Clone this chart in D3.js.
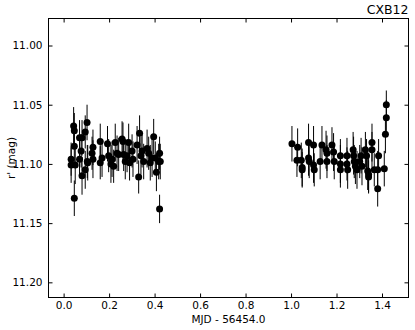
<!DOCTYPE html>
<html><head><meta charset="utf-8">
<script src="https://cdn.jsdelivr.net/npm/d3@7"></script>
<style>
body{margin:0;background:#fff;}
text{font-family:"DejaVu Sans",sans-serif;fill:#000;}
</style></head>
<body><svg id="c" width="415" height="330"></svg>
<script>
const title = "CXB12";
const xLabel = "MJD - 56454.0";
const yLabel = "r' (mag)";
const xTicks = [0.0,0.2,0.4,0.6,0.8,1.0,1.2,1.4];
const yTicks = [11.00,11.05,11.10,11.15,11.20];

const t = [0.033,0.033,0.044,0.047,0.047,0.047,0.051,0.070,0.077,0.070,0.081,0.095,0.103,0.095,0.106,0.125,0.129,0.129,0.161,0.161,0.169,0.193,0.198,0.208,0.213,0.220,0.227,0.235,0.242,0.257,0.261,0.264,0.271,0.279,0.286,0.290,0.301,0.305,0.323,0.330,0.334,0.340,0.345,0.352,0.367,0.374,0.381,0.389,0.396,0.403,0.408,0.418,0.422,0.422,0.425,0.081,0.104,
1.004,1.029,1.026,1.045,1.049,1.049,1.077,1.077,1.080,1.099,1.099,1.102,1.128,1.136,1.154,1.158,1.158,1.180,1.187,1.190,1.217,1.217,1.217,1.246,1.246,1.249,1.273,1.275,1.278,1.283,1.290,1.302,1.308,1.312,1.327,1.332,1.337,1.341,1.341,1.356,1.356,1.366,1.381,1.381,1.385,1.410,1.415,1.419,1.419];
const mag = [11.096,11.101,11.068,11.072,11.085,11.129,11.101,11.078,11.089,11.096,11.110,11.073,11.065,11.105,11.099,11.091,11.086,11.096,11.081,11.099,11.095,11.083,11.093,11.100,11.096,11.102,11.082,11.091,11.092,11.079,11.081,11.092,11.098,11.093,11.082,11.099,11.089,11.096,11.084,11.111,11.074,11.093,11.089,11.098,11.087,11.091,11.099,11.095,11.077,11.095,11.107,11.098,11.091,11.138,11.098,11.078,11.098,
11.083,11.086,11.097,11.097,11.103,11.105,11.082,11.095,11.098,11.084,11.101,11.105,11.098,11.084,11.088,11.091,11.098,11.084,11.090,11.098,11.093,11.100,11.105,11.093,11.100,11.105,11.088,11.093,11.098,11.102,11.105,11.098,11.093,11.102,11.088,11.093,11.106,11.109,11.111,11.082,11.088,11.105,11.105,11.121,11.093,11.104,11.075,11.061,11.050];
const err = [0.014,0.015,0.016,0.015,0.014,0.015,0.016,0.015,0.014,0.015,0.016,0.014,0.015,0.016,0.015,0.014,0.015,0.016,0.015,0.014,0.016,0.015,0.014,0.016,0.015,0.014,0.016,0.015,0.014,0.015,0.016,0.014,0.015,0.014,0.016,0.015,0.014,0.015,0.016,0.014,0.015,0.016,0.014,0.015,0.016,0.014,0.015,0.016,0.015,0.014,0.016,0.015,0.014,0.012,0.015,0.015,0.014,
0.015,0.016,0.014,0.015,0.016,0.015,0.016,0.015,0.014,0.016,0.015,0.014,0.015,0.016,0.016,0.015,0.014,0.015,0.016,0.015,0.014,0.016,0.015,0.015,0.014,0.016,0.015,0.016,0.014,0.015,0.016,0.014,0.015,0.016,0.015,0.014,0.016,0.015,0.014,0.016,0.015,0.014,0.016,0.015,0.014,0.015,0.016,0.015,0.012];

const svg = d3.select("#c");
const L=48.5, R=408.5, T=18.5, B=297.5;
const x = d3.scaleLinear().domain([-0.0665,1.5165]).range([L,R]);
const y = d3.scaleLinear().domain([10.9772,11.2128]).range([T,B]);

const data = t.map((d,i)=>({t:d,m:mag[i],e:err[i]}));

const g = svg.append("g");
g.selectAll("line.eb").data(data).enter().append("line")
  .attr("x1",d=>x(d.t)).attr("x2",d=>x(d.t))
  .attr("y1",d=>y(d.m-d.e)).attr("y2",d=>y(d.m+d.e))
  .attr("stroke","#000").attr("stroke-width",1);
g.selectAll("circle").data(data).enter().append("circle")
  .attr("cx",d=>x(d.t)).attr("cy",d=>y(d.m)).attr("r",3.5).attr("fill","#000");

const fmtY = d3.format(".2f"), fmtX = d3.format(".1f");
const axB = d3.axisBottom(x).tickValues(xTicks).tickSize(-4).tickPadding(4).tickFormat(fmtX);
const axT = d3.axisTop(x).tickValues(xTicks).tickSize(-4).tickFormat("");
const axL = d3.axisLeft(y).tickValues(yTicks).tickSize(-4).tickPadding(6).tickFormat(fmtY);
const axR = d3.axisRight(y).tickValues(yTicks).tickSize(-4).tickFormat("");
function style(sel){sel.select(".domain").remove();sel.selectAll("line").attr("stroke","#000");sel.selectAll("text").style("font-family","DejaVu Sans").style("font-size","10.5px");}
svg.append("g").attr("transform",`translate(0,${B})`).call(axB).call(style);
svg.append("g").attr("transform",`translate(0,${T})`).call(axT).call(style);
svg.append("g").attr("transform",`translate(${L},0)`).call(axL).call(style);
svg.append("g").attr("transform",`translate(${R},0)`).call(axR).call(style);

svg.append("rect").attr("x",L).attr("y",T).attr("width",R-L).attr("height",B-T)
  .attr("fill","none").attr("stroke","#000").attr("stroke-width",1);

svg.append("text").attr("x",R).attr("y",14).attr("text-anchor","end").style("font-size","12.5px").text(title);
svg.append("text").attr("x",(L+R)/2).attr("y",323).attr("text-anchor","middle").style("font-size","10.5px").text(xLabel);
svg.append("text").attr("transform",`translate(15,${(T+B)/2}) rotate(-90)`).attr("text-anchor","middle").style("font-size","10.5px").text(yLabel);
</script></body></html>
